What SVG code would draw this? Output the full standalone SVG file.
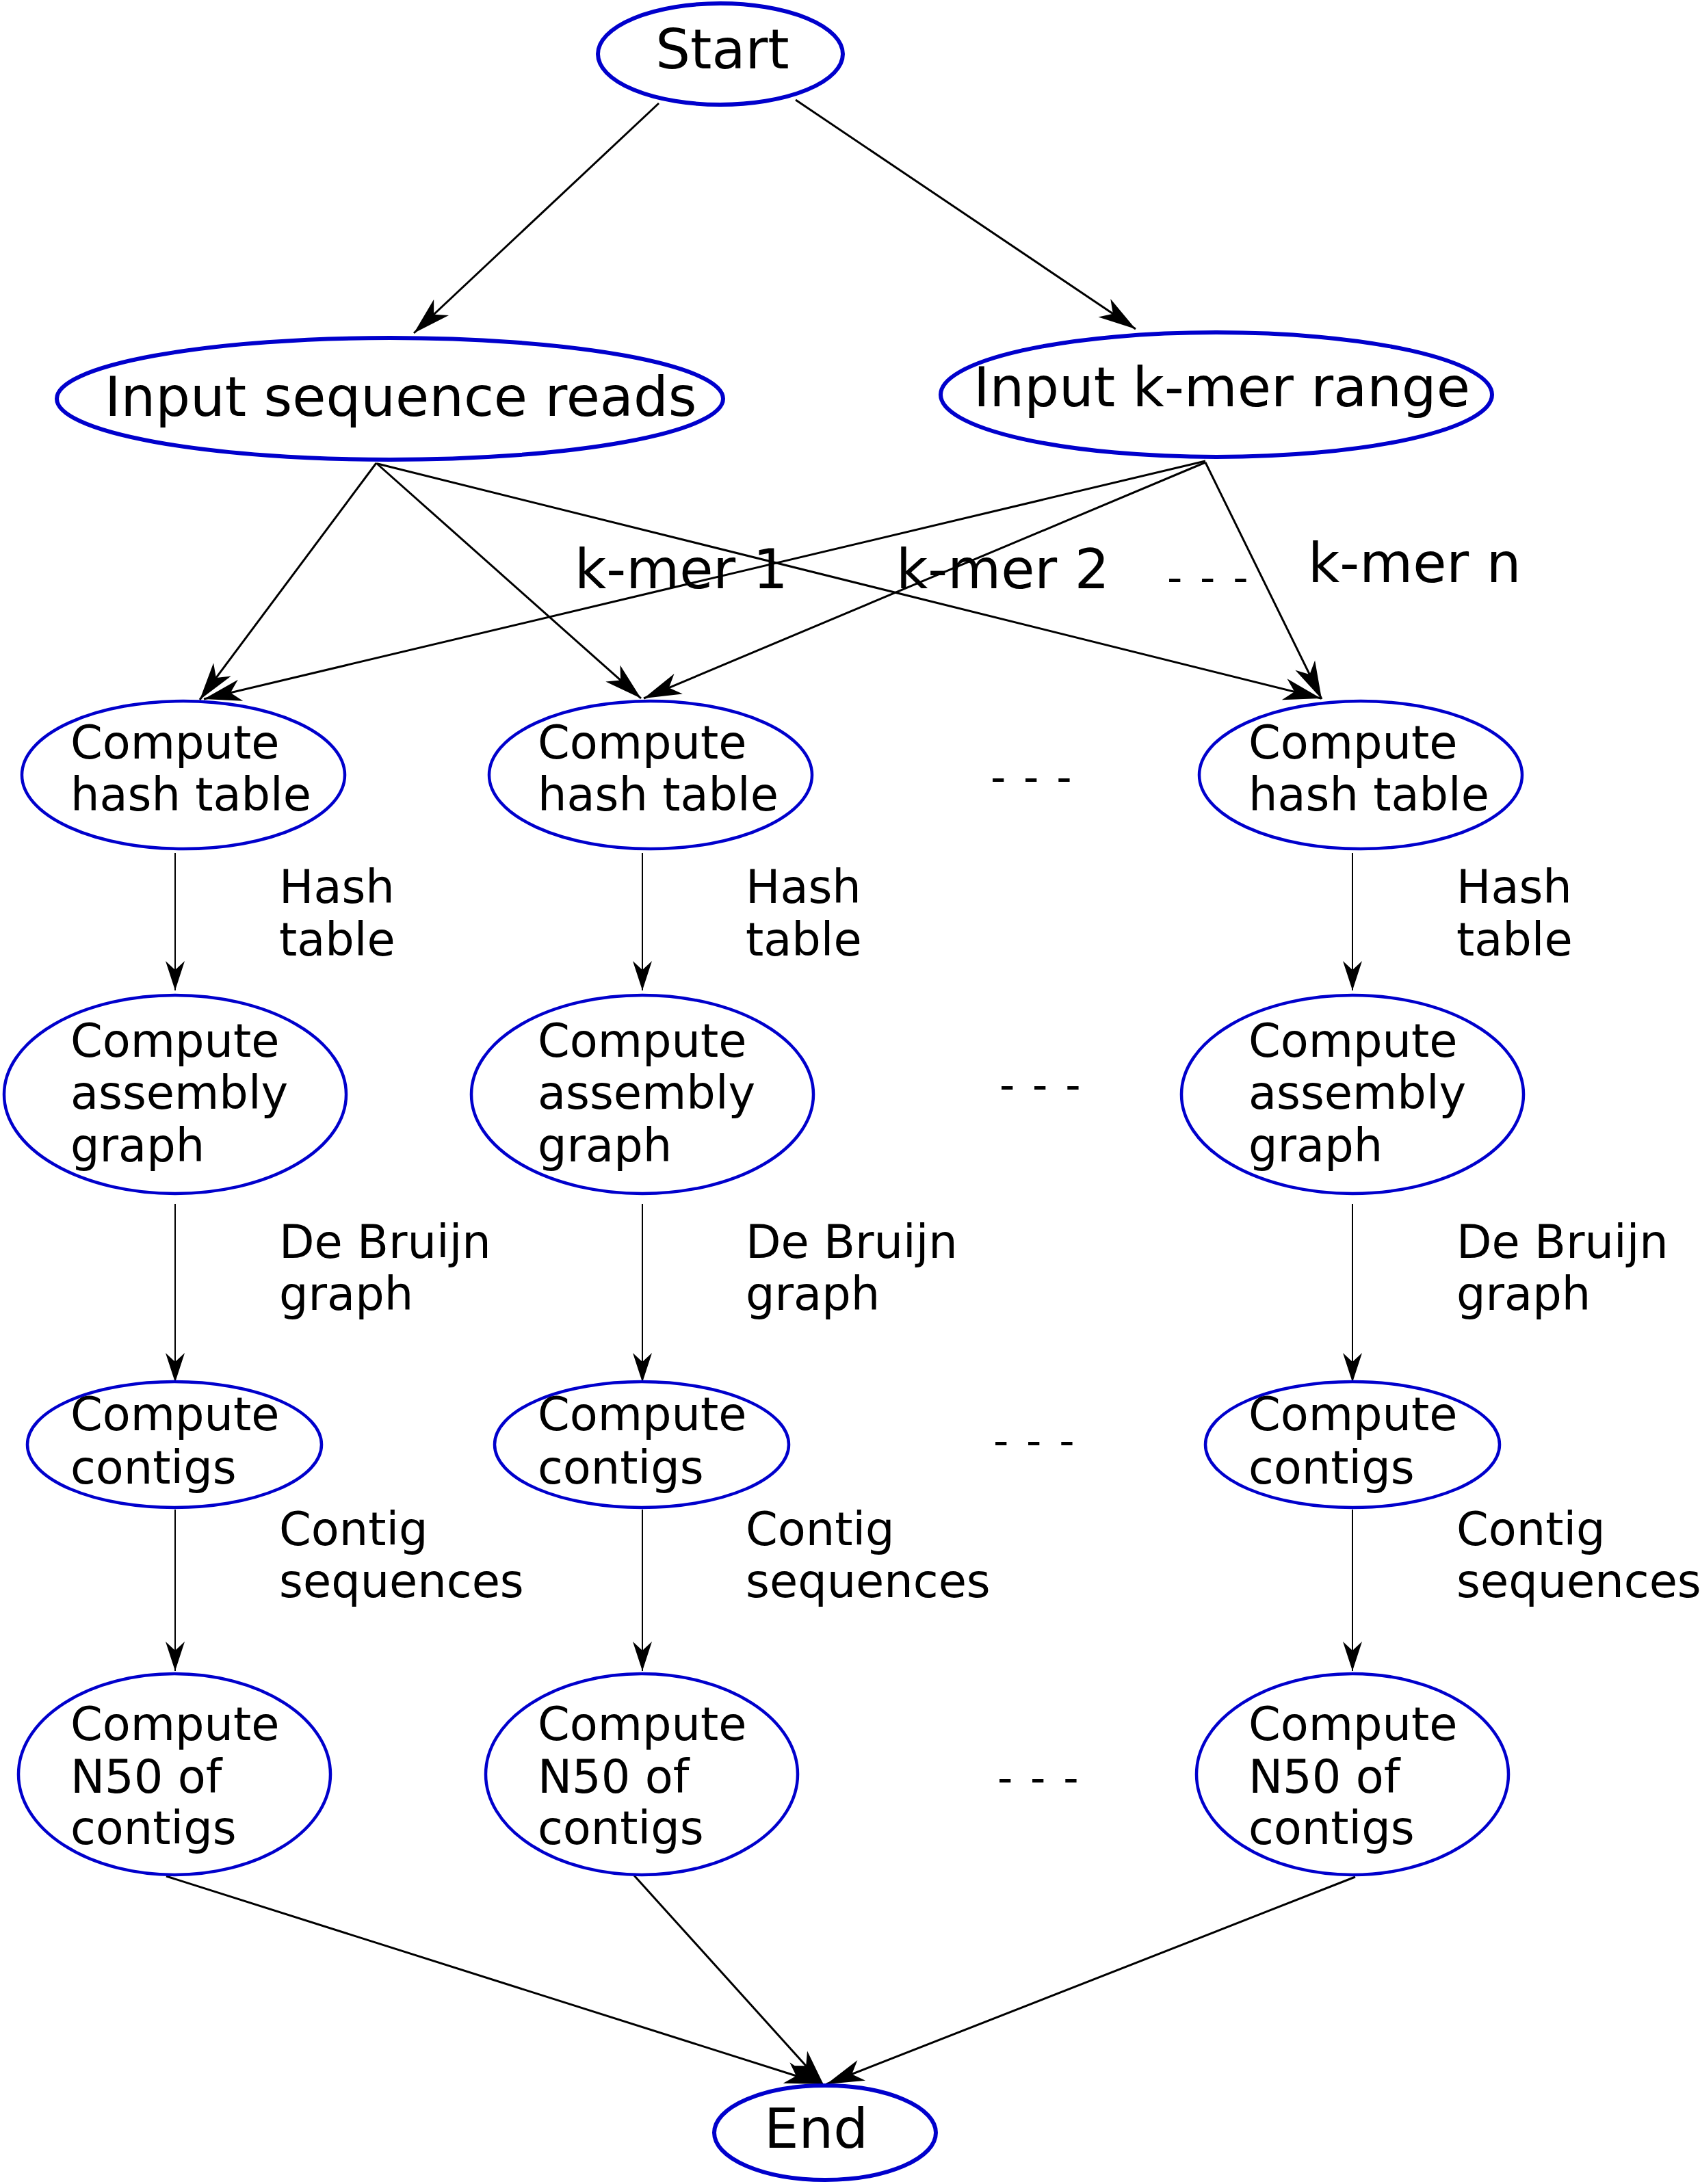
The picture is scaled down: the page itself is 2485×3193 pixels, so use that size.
<svg xmlns="http://www.w3.org/2000/svg" width="2485" height="3193" viewBox="0 0 2485 3193">
<style>
.node ellipse{fill:#ffffff;stroke:#0000cc;stroke-width:4.5}
.node.big ellipse{stroke-width:6}
.t{font-family:"DejaVu Sans",sans-serif;fill:#000000}
.top{font-size:80px}
.col{font-size:67px}
.dots{font-size:62px;letter-spacing:3px}
.edge{fill:none;stroke:#000000;stroke-width:3;marker-end:url(#bigArrow)}
.flow{fill:none;stroke:#000000;stroke-width:2;marker-end:url(#smallArrow)}
</style>
<defs>
<marker id="bigArrow" markerUnits="userSpaceOnUse" orient="auto" overflow="visible" refX="0" refY="0" markerWidth="1" markerHeight="1">
<path d="M0,0 L-55,-16 L-40,0 L-55,16 Z" fill="#000000"/>
</marker>
<marker id="smallArrow" markerUnits="userSpaceOnUse" orient="auto" overflow="visible" refX="0" refY="0" markerWidth="1" markerHeight="1">
<path d="M0,0 L-43,-14 L-30,0 L-43,14 Z" fill="#000000"/>
</marker>
</defs>
<rect x="0" y="0" width="2485" height="3193" fill="#ffffff"/>

<g id="connectors">
<line class="edge" x1="963" y1="151" x2="605" y2="487"/>
<line class="edge" x1="1163" y1="146" x2="1660" y2="481"/>
<line class="edge" x1="550" y1="677" x2="292" y2="1023"/>
<line class="edge" x1="550" y1="677" x2="937" y2="1021"/>
<line class="edge" x1="552" y1="678" x2="1931" y2="1021"/>
<line class="edge" x1="1762" y1="674" x2="298" y2="1022"/>
<line class="edge" x1="1762" y1="676" x2="941" y2="1021"/>
<line class="edge" x1="1762" y1="676" x2="1932" y2="1022"/>
<line class="flow" x1="256" y1="1247" x2="256" y2="1448"/>
<line class="flow" x1="939" y1="1247" x2="939" y2="1448"/>
<line class="flow" x1="1977" y1="1247" x2="1977" y2="1448"/>
<line class="flow" x1="256" y1="1760" x2="256" y2="2021"/>
<line class="flow" x1="939" y1="1760" x2="939" y2="2021"/>
<line class="flow" x1="1977" y1="1760" x2="1977" y2="2021"/>
<line class="flow" x1="256" y1="2207" x2="256" y2="2443"/>
<line class="flow" x1="939" y1="2207" x2="939" y2="2443"/>
<line class="flow" x1="1977" y1="2207" x2="1977" y2="2443"/>
<line class="edge" x1="243" y1="2743" x2="1202" y2="3047"/>
<line class="edge" x1="927" y1="2742" x2="1205" y2="3050"/>
<line class="edge" x1="1981" y1="2744" x2="1208" y2="3047"/>
</g>

<g id="start" class="node big">
<ellipse cx="1053" cy="79" rx="179" ry="74"/>
<text class="t top" x="1056" y="100" text-anchor="middle">Start</text>
</g>
<g id="input-reads" class="node big">
<ellipse cx="570" cy="583" rx="487" ry="89"/>
<text class="t top" x="153" y="608">Input sequence reads</text>
</g>
<g id="input-kmer" class="node big">
<ellipse cx="1778" cy="577" rx="403" ry="91"/>
<text class="t top" x="1423" y="594">Input k-mer range</text>
</g>

<g id="kmer-labels">
<text class="t top" x="840" y="860">k-mer 1</text>
<text class="t top" x="1310" y="860">k-mer 2</text>
<text class="t dots" x="1706" y="866">- - -</text>
<text class="t top" x="1912" y="851">k-mer n</text>
</g>

<g id="hash1" class="node">
<ellipse cx="268" cy="1133" rx="236" ry="108"/>
<text class="t col" x="103" y="1109">Compute</text>
<text class="t col" x="103" y="1185">hash table</text>
</g>
<g id="hash2" class="node">
<ellipse cx="951" cy="1133" rx="236" ry="108"/>
<text class="t col" x="786" y="1109">Compute</text>
<text class="t col" x="786" y="1185">hash table</text>
</g>
<g id="hash3" class="node">
<ellipse cx="1989" cy="1133" rx="236" ry="108"/>
<text class="t col" x="1825" y="1109">Compute</text>
<text class="t col" x="1825" y="1185">hash table</text>
</g>

<g id="assembly1" class="node">
<ellipse cx="256" cy="1600" rx="250" ry="145"/>
<text class="t col" x="103" y="1545">Compute</text>
<text class="t col" x="103" y="1621">assembly</text>
<text class="t col" x="103" y="1698">graph</text>
</g>
<g id="assembly2" class="node">
<ellipse cx="939" cy="1600" rx="250" ry="145"/>
<text class="t col" x="786" y="1545">Compute</text>
<text class="t col" x="786" y="1621">assembly</text>
<text class="t col" x="786" y="1698">graph</text>
</g>
<g id="assembly3" class="node">
<ellipse cx="1977" cy="1600" rx="250" ry="145"/>
<text class="t col" x="1825" y="1545">Compute</text>
<text class="t col" x="1825" y="1621">assembly</text>
<text class="t col" x="1825" y="1698">graph</text>
</g>

<g id="contigs1" class="node">
<ellipse cx="255" cy="2112" rx="215" ry="92"/>
<text class="t col" x="103" y="2091">Compute</text>
<text class="t col" x="103" y="2169">contigs</text>
</g>
<g id="contigs2" class="node">
<ellipse cx="938" cy="2112" rx="215" ry="92"/>
<text class="t col" x="786" y="2091">Compute</text>
<text class="t col" x="786" y="2169">contigs</text>
</g>
<g id="contigs3" class="node">
<ellipse cx="1977" cy="2112" rx="215" ry="92"/>
<text class="t col" x="1825" y="2091">Compute</text>
<text class="t col" x="1825" y="2169">contigs</text>
</g>

<g id="n50-1" class="node">
<ellipse cx="255" cy="2594" rx="228" ry="147"/>
<text class="t col" x="103" y="2544">Compute</text>
<text class="t col" x="103" y="2621">N50 of</text>
<text class="t col" x="103" y="2696">contigs</text>
</g>
<g id="n50-2" class="node">
<ellipse cx="938" cy="2594" rx="228" ry="147"/>
<text class="t col" x="786" y="2544">Compute</text>
<text class="t col" x="786" y="2621">N50 of</text>
<text class="t col" x="786" y="2696">contigs</text>
</g>
<g id="n50-3" class="node">
<ellipse cx="1977" cy="2594" rx="228" ry="147"/>
<text class="t col" x="1825" y="2544">Compute</text>
<text class="t col" x="1825" y="2621">N50 of</text>
<text class="t col" x="1825" y="2696">contigs</text>
</g>

<g id="end" class="node big">
<ellipse cx="1206" cy="3118" rx="162" ry="69"/>
<text class="t top" x="1117" y="3140">End</text>
</g>

<g id="edge-labels">
<text class="t col" x="408" y="1320">Hash</text>
<text class="t col" x="408" y="1397">table</text>
<text class="t col" x="1090" y="1320">Hash</text>
<text class="t col" x="1090" y="1397">table</text>
<text class="t col" x="2129" y="1320">Hash</text>
<text class="t col" x="2129" y="1397">table</text>
<text class="t col" x="408" y="1839">De Bruijn</text>
<text class="t col" x="408" y="1915">graph</text>
<text class="t col" x="1090" y="1839">De Bruijn</text>
<text class="t col" x="1090" y="1915">graph</text>
<text class="t col" x="2129" y="1839">De Bruijn</text>
<text class="t col" x="2129" y="1915">graph</text>
<text class="t col" x="408" y="2259">Contig</text>
<text class="t col" x="408" y="2335">sequences</text>
<text class="t col" x="1090" y="2259">Contig</text>
<text class="t col" x="1090" y="2335">sequences</text>
<text class="t col" x="2129" y="2259">Contig</text>
<text class="t col" x="2129" y="2335">sequences</text>
</g>

<g id="ellipsis-marks">
<text class="t dots" x="1448" y="1158">- - -</text>
<text class="t dots" x="1461" y="1608">- - -</text>
<text class="t dots" x="1452" y="2128">- - -</text>
<text class="t dots" x="1458" y="2621">- - -</text>
</g>
</svg>
